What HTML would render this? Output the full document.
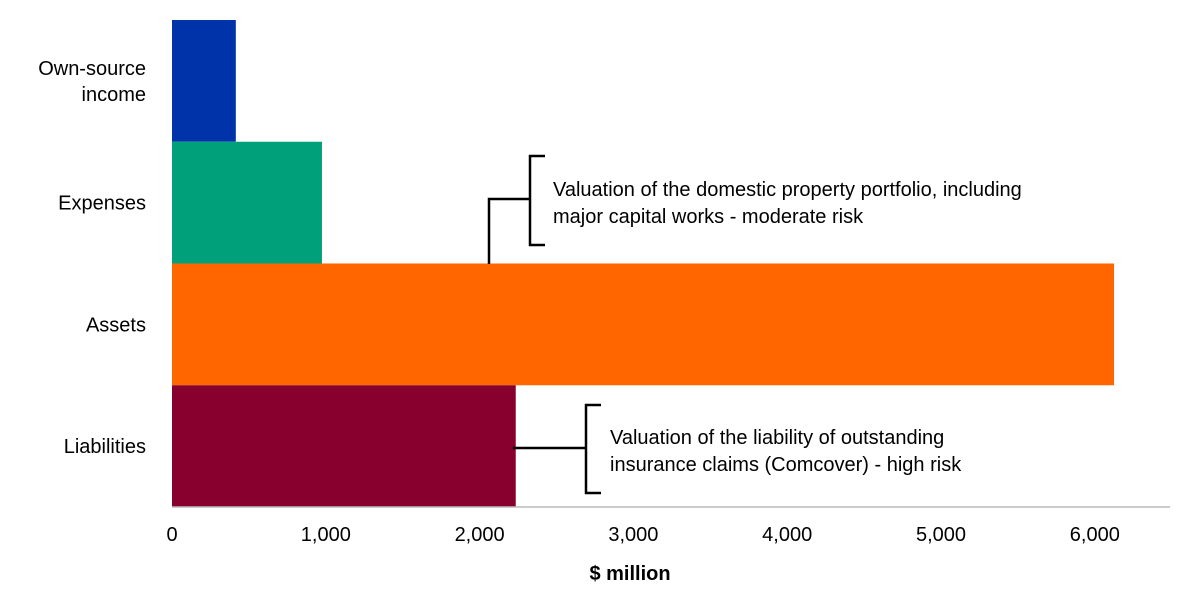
<!DOCTYPE html>
<html><head><meta charset="utf-8"><style>
body{margin:0;background:#fff;font-family:"Liberation Sans",sans-serif}
</style></head><body>
<svg id="chart" width="1200" height="601" font-family="Liberation Sans, sans-serif"></svg>
<script>
const categories=["Own-source income","Expenses","Assets","Liabilities"];
const values=[415,975,6125,2235];
const colors=["#0033AA","#00A07A","#FF6600","#88002E"];
const ticks=[0,1000,2000,3000,4000,5000,6000];
const tickLabels=["0","1,000","2,000","3,000","4,000","5,000","6,000"];
const svg=document.getElementById('chart');
const NS='http://www.w3.org/2000/svg';
const x=v=>172+v*0.1538;
const bandTop=20,bandH=121.75;
const y=i=>bandTop+i*bandH;
function mk(t,a){const e=document.createElementNS(NS,t);for(const k in a)e.setAttribute(k,a[k]);svg.appendChild(e);return e;}
categories.forEach((c,i)=>{
 const r=mk('rect',{x:x(0),y:y(i),width:x(values[i])-x(0),height:bandH,fill:colors[i]});
 
 
 const lines=c==="Own-source income"?["Own-source","income"]:[c];
 lines.forEach((l,j)=>{
  const t=mk('text',{x:146,y:y(i)+bandH/2+7-(lines.length-1)*13+j*26,'text-anchor':'end','font-size':20,fill:'#000'});
  t.textContent=l;
  
  
 });
});
const ax=mk('line',{x1:172,x2:1170,y1:507,y2:507,stroke:'#bbb','stroke-width':1.5});


ticks.forEach((v,i)=>{
 const t=mk('text',{x:x(v),y:541,'text-anchor':'middle','font-size':20,fill:'#000'});
 t.textContent=tickLabels[i];
 
 
});
const tt=mk('text',{x:630,y:580,'text-anchor':'middle','font-size':20,'font-weight':'bold',fill:'#000'});
tt.textContent='$ million';


const p1=mk('path',{d:'M489 264V199H530M545 156H530V245H545',fill:'none',stroke:'#000','stroke-width':2.5});


const p2=mk('path',{d:'M513 448H586M601 405H586V493H601',fill:'none',stroke:'#000','stroke-width':2.5});


[["Valuation of the domestic property portfolio, including",553,196],["major capital works - moderate risk",553,223],["Valuation of the liability of outstanding",610,444],["insurance claims (Comcover) - high risk",610,471]].forEach(a=>{
 const t=mk('text',{x:a[1],y:a[2],'font-size':20,fill:'#000'});
 t.textContent=a[0];
 
 
});
</script>
</body></html>
